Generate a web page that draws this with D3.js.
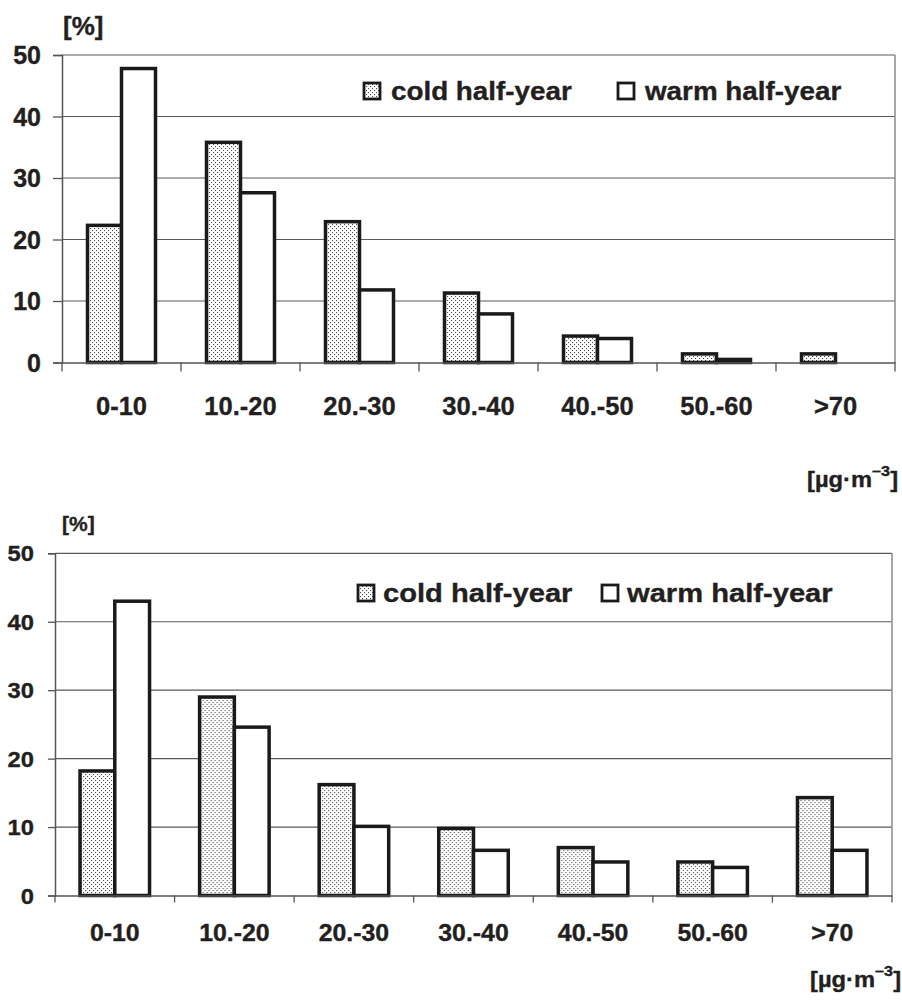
<!DOCTYPE html>
<html>
<head>
<meta charset="utf-8">
<script src="https://cdn.jsdelivr.net/npm/d3@7"></script>
<style>
  html, body { margin: 0; padding: 0; background: #fff; }
  svg { display: block; }
  text { font-family: "Liberation Sans", Arial, sans-serif; font-weight: bold; fill: #231f20;
         stroke: #231f20; stroke-width: 0.35px; }
</style>
</head>
<body>
<svg id="chart" width="902" height="1000"></svg>
<script>
// Concentration classes
const categories = ["0-10", "10.-20", "20.-30", "30.-40", "40.-50", "50.-60", ">70"];
const seriesNames = ["cold half-year", "warm half-year"];
const yTicks = [0, 10, 20, 30, 40, 50];

// Frequency [%] – upper panel
const coldTop = [22.3, 35.8, 22.9, 11.3, 4.3, 1.4, 1.4];
const warmTop = [47.8, 27.6, 11.8, 7.9, 3.9, 0.5, 0];

// Frequency [%] – lower panel
const coldBottom = [18.2, 29.0, 16.2, 9.8, 7.0, 4.9, 14.3];
const warmBottom = [43.0, 24.6, 10.1, 6.6, 4.9, 4.1, 6.6];

const svg = d3.select("#chart");

// dotted fill for the cold half-year
const defs = svg.append("defs");
const pat = defs.append("pattern")
  .attr("id", "dots").attr("patternUnits", "userSpaceOnUse")
  .attr("width", 4).attr("height", 4);
pat.append("rect").attr("width", 4).attr("height", 4).attr("fill", "#fff");
pat.append("rect").attr("x", 0).attr("y", 0).attr("width", 1.1).attr("height", 1.1).attr("fill", "#505050");
pat.append("rect").attr("x", 2).attr("y", 2).attr("width", 1.1).attr("height", 1.1).attr("fill", "#505050");

// text placed with a horizontal stretch factor
function label(parent, x, y, size, sx, anchor) {
  return parent.append("text")
    .attr("transform", `translate(${x},${y}) scale(${sx},1)`)
    .attr("font-size", size)
    .attr("text-anchor", anchor || "start");
}

function panel(cfg) {
  const g = svg.append("g");
  const x = d3.scaleBand().domain(categories).range([cfg.left, cfg.right]);
  const xs = d3.scaleBand().domain(seriesNames).range([0, x.bandwidth()]).paddingOuter(cfg.outer);
  const y = d3.scaleLinear().domain([0, 50]).range([cfg.bottom, cfg.top]);

  // gridlines
  g.append("g").selectAll("line").data(yTicks.filter(t => t > 0)).join("line")
    .attr("x1", cfg.left).attr("x2", cfg.right)
    .attr("y1", d => y(d)).attr("y2", d => y(d))
    .attr("stroke", "#5a5a5a").attr("stroke-width", 1.2);

  // right border of plot area
  g.append("line").attr("x1", cfg.right).attr("x2", cfg.right)
    .attr("y1", cfg.top).attr("y2", cfg.bottom)
    .attr("stroke", "#8a8a8a").attr("stroke-width", 1.5);

  // bars
  const data = categories.map((c, i) => ({ c, v: [cfg.cold[i], cfg.warm[i]] }));
  const grp = g.append("g").selectAll("g").data(data).join("g")
    .attr("transform", d => `translate(${x(d.c)},0)`);
  grp.selectAll("rect").data(d => d.v.map((v, k) => ({ v, s: seriesNames[k] })))
    .join("rect")
    .filter(d => d.v > 0)
    .attr("x", d => xs(d.s))
    .attr("width", xs.bandwidth())
    .attr("y", d => y(d.v))
    .attr("height", d => y(0) - y(d.v))
    .attr("fill", d => d.s === seriesNames[0] ? "url(#dots)" : "#fff")
    .attr("stroke", "#1a1a1a").attr("stroke-width", 3.5);

  // y axis
  const ya = d3.axisLeft(y).tickValues(yTicks).tickSize(cfg.tickLen).tickFormat("");
  const yag = g.append("g").attr("transform", `translate(${cfg.left},0)`).call(ya);
  yag.select(".domain").attr("stroke", "#555").attr("stroke-width", 1.5);
  yag.selectAll(".tick line").attr("stroke", "#555").attr("stroke-width", 1.3);

  yTicks.forEach(t => {
    label(g, cfg.yLabelX, y(t) + cfg.yLabelDy, cfg.yFont, cfg.ySx, "end").text(t);
  });

  // x axis with ticks at the class boundaries
  const xa = d3.axisBottom(x).tickSize(0).tickFormat("");
  const xag = g.append("g").attr("transform", `translate(0,${cfg.bottom})`).call(xa);
  xag.select(".domain").attr("stroke", "#555").attr("stroke-width", 1.5);
  const bounds = categories.map(c => x(c)).concat([cfg.right]);
  g.append("g").selectAll("line").data(bounds).join("line")
    .attr("x1", d => d).attr("x2", d => d)
    .attr("y1", cfg.bottom).attr("y2", cfg.bottom + cfg.tickLen)
    .attr("stroke", "#555").attr("stroke-width", 1.3);

  categories.forEach(c => {
    label(g, x(c) + x.bandwidth() / 2, cfg.catY, cfg.catFont, cfg.catSx, "middle").text(c);
  });

  // axis captions
  label(g, cfg.pctX, cfg.pctY, cfg.pctFont, 1).text("[%]");
  const u = label(g, cfg.unitX, cfg.unitY, 22, 1.08);
  u.append("tspan").text("[µg·m");
  u.append("tspan").attr("dy", -11).attr("font-size", 15).text("–3");
  u.append("tspan").attr("dy", 11).text("]");

  // legend
  seriesNames.forEach((s, k) => {
    g.append("rect").attr("x", cfg.legX[k]).attr("y", cfg.legY - 17)
      .attr("width", 16).attr("height", 16)
      .attr("fill", k === 0 ? "url(#dots)" : "#fff")
      .attr("stroke", "#1a1a1a").attr("stroke-width", 2.8);
    label(g, cfg.legX[k] + cfg.legGap, cfg.legY, cfg.legFont, cfg.legSx).text(s);
  });
}

panel({
  left: 62, right: 895, top: 55, bottom: 362.5, outer: 0.75, tickLen: 9,
  cold: coldTop, warm: warmTop,
  yLabelX: 41, yLabelDy: 9, yFont: 25, ySx: 1,
  catY: 415, catFont: 25.5, catSx: 1,
  pctX: 63, pctY: 35, pctFont: 26,
  unitX: 807, unitY: 487,
  legX: [364, 618], legGap: 27, legY: 100, legFont: 26, legSx: 1.07
});

panel({
  left: 55, right: 892, top: 553.3, bottom: 895.5, outer: 0.72, tickLen: 7,
  cold: coldBottom, warm: warmBottom,
  yLabelX: 34, yLabelDy: 8, yFont: 22, ySx: 1.08,
  catY: 941, catFont: 23, catSx: 1.08,
  pctX: 62, pctY: 531, pctFont: 21,
  unitX: 810, unitY: 987,
  legX: [358, 602], legGap: 25, legY: 602, legFont: 26.5, legSx: 1.1
});
</script>
</body>
</html>
